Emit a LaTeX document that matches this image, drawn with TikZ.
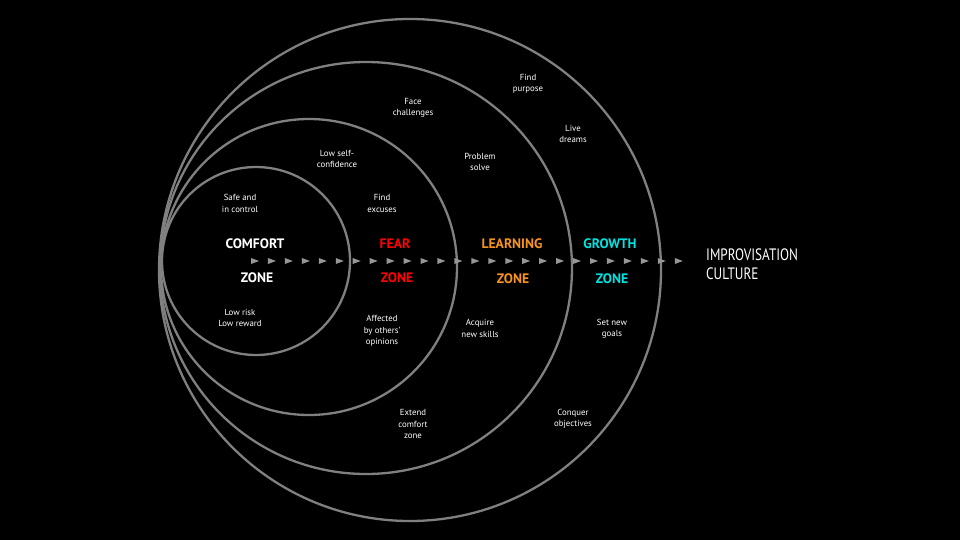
\documentclass[tikz,border=0pt]{standalone}
\usepackage{fontspec}
\setmainfont{PT Sans}
\newfontfamily\narrowfont[FakeStretch=0.8]{PT Sans}
\definecolor{ringgray}{RGB}{128, 128, 128}
\definecolor{tipgray}{RGB}{150, 150, 150}
\definecolor{fearred}{RGB}{255, 0, 0}
\definecolor{learnorange}{RGB}{247, 148, 29}
\definecolor{growcyan}{RGB}{0, 226, 226}
\usetikzlibrary{positioning}

\begin{document}
\begin{tikzpicture}[x=1pt, y=-1pt,
    ring/.style={draw=ringgray, line width=2.3pt},
    note/.style={text=white, align=center, font=\fontsize{8.8}{11.3}\selectfont, inner sep=0pt},
    zonetitle/.style={font=\fontsize{13.7}{14}\selectfont\bfseries, inner sep=0pt}]
  % Background
  \fill[black] (0, 0) rectangle (960, 540);
  \useasboundingbox (0, 0) rectangle (960, 540);

  % Rings
  \draw[ring] (410, 270) circle (251);
  \draw[ring] (366, 268) circle (206);
  \draw[ring] (309, 267) circle (148);
  \draw[ring] (256, 261) circle (94);

  % Arrow heads along the axis
  \foreach \i in {0,...,25} {
    \fill[tipgray] ({251+16.95*\i}, 258) -- ({259+16.95*\i}, 261) -- ({251+16.95*\i}, 264) -- cycle;
  }

  % Zone titles
  \node[zonetitle, text=white] (comfort) at (255, 244) {COMFORT};
  \node[zonetitle, text=white] (comfortzone) at (257, 278) {ZONE};
  \node[zonetitle, text=fearred] (fear) at (395, 244) {FEAR};
  \node[zonetitle, text=fearred] (fearzone) at (397, 278) {ZONE};
  \node[zonetitle, text=learnorange] (learning) at (512, 244) {LEARNING};
  \node[zonetitle, text=learnorange] (learningzone) at (513, 279) {ZONE};
  \node[zonetitle, text=growcyan] (growth) at (610, 244) {GROWTH};
  \node[zonetitle, text=growcyan] (growthzone) at (612, 279) {ZONE};

  % Goal
  \node[text=white, align=left, anchor=west, inner sep=0pt, font=\narrowfont\fontsize{16.5}{18.5}\selectfont] (culture) at (706, 264) {IMPROVISATION\\CULTURE};

  % Comfort zone notes
  \node[note] (safe) at (240, 203.5) {Safe and\\in control};
  \node[note] (lowrisk) at (240, 318) {Low risk\\Low reward};

  % Fear zone notes
  \node[note] (selfconf) at (337, 159) {Low self-\\confidence};
  \node[note] (excuses) at (382, 203.5) {Find\\excuses};
  \node[note] (opinions) at (382, 331) {Affected\\by others'\\opinions};

  % Learning zone notes
  \node[note] (challenges) at (413, 108) {Face\\challenges};
  \node[note] (problem) at (480, 162) {Problem\\solve};
  \node[note] (skills) at (480, 328.5) {Acquire\\new skills};
  \node[note] (extend) at (413, 424) {Extend\\comfort\\zone};

  % Growth zone notes
  \node[note] (purpose) at (528, 84) {Find\\purpose};
  \node[note] (dreams) at (573, 134) {Live\\dreams};
  \node[note] (goals) at (612, 328.5) {Set new\\goals};
  \node[note] (objectives) at (573, 418.5) {Conquer\\objectives};
\end{tikzpicture}
\end{document}
